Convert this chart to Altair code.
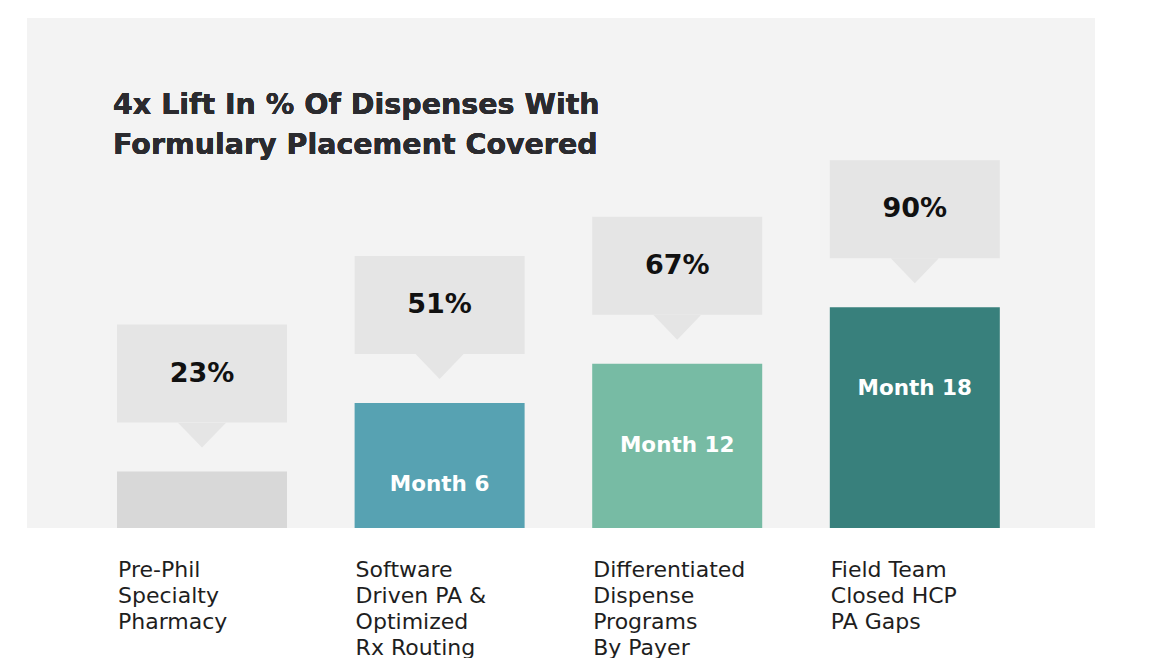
import altair as alt
import pandas as pd

categories = ["Pre-Phil Specialty Pharmacy",
              "Software Driven PA & Optimized Rx Routing",
              "Differentiated Dispense Programs By Payer",
              "Field Team Closed HCP PA Gaps"]
label_lines = ["Pre-Phil|Specialty|Pharmacy",
               "Software|Driven PA &|Optimized|Rx Routing",
               "Differentiated|Dispense|Programs|By  Payer",
               "Field Team|Closed HCP|PA Gaps"]
values = [23, 51, 67, 90]
value_labels = ["23%", "51%", "67%", "90%"]
month_labels = ["", "Month 6", "Month 12", "Month 18"]
colors = ["#d8d8d8", "#57a2b2", "#77bba4", "#38807c"]

title_text = "4x Lift In % Of Dispenses With\nFormulary Placement Covered"

df = pd.DataFrame({
    "cat": label_lines,
    "value": values,
    "pct": value_labels,
    "month": month_labels,
    "color": colors,
})

FONT = "DejaVu Sans"

x = alt.X("cat:N", sort=label_lines,
          scale=alt.Scale(paddingInner=0.2845, paddingOuter=0.3897, align=0.486),
          axis=alt.Axis(title=None, domain=False, ticks=False,
                        labelExpr="split(datum.value, '|')",
                        labelAngle=0, labelAlign="left", labelOffset=-84,
                        labelBaseline="top", labelPadding=31,
                        labelFontSize=22, labelLineHeight=26,
                        labelColor="#1e1e1e", labelFont=FONT))
y = alt.Y("value:Q", scale=alt.Scale(domain=[0, 208], nice=False),
          axis=None)

base = alt.Chart(df)

bars = base.mark_bar(opacity=1).encode(
    x=x, y=y, color=alt.Color("color:N", scale=None))

boxes = base.mark_bar(color="#e5e5e5", yOffset=-147, y2Offset=-49).encode(
    x=x, y=y, y2=alt.Y2("value:Q"))

pointer = base.mark_point(
    shape="M-1,-0.52L1,-0.52L0,0.52Z", size=2304, filled=True,
    color="#e5e5e5", opacity=1, strokeWidth=0, yOffset=-36.5).encode(
    x=x, y=y)

pct_text = base.mark_text(font=FONT, fontSize=27, fontWeight="bold",
                          color="#111111", yOffset=-98,
                          baseline="middle").encode(
    x=x, y=y, text="pct:N")

month_text = base.mark_text(font=FONT, fontSize=21.5, fontWeight="bold",
                            color="#ffffff", yOffset=82,
                            baseline="middle").encode(
    x=x, y=y, text="month:N")

title = base.mark_text(font=FONT, fontSize=28.5, fontWeight="bold",
                       color="#2b2b2f", align="left", baseline="alphabetic",
                       lineBreak="\n", lineHeight=40).encode(
    x=alt.value(86), y=alt.value(96), text=alt.value(title_text))

chart = alt.layer(bars, boxes, pointer, pct_text, month_text, title).properties(
    width=1068, height=510,
    padding={"left": 19, "top": 10, "right": 57, "bottom": 130},
    autosize=alt.AutoSizeParams(type="none"),
    background="#ffffff",
).configure_view(fill="#f3f3f3", stroke=None)

chart.save("out.html", embed_options={"renderer": "svg", "actions": False})
